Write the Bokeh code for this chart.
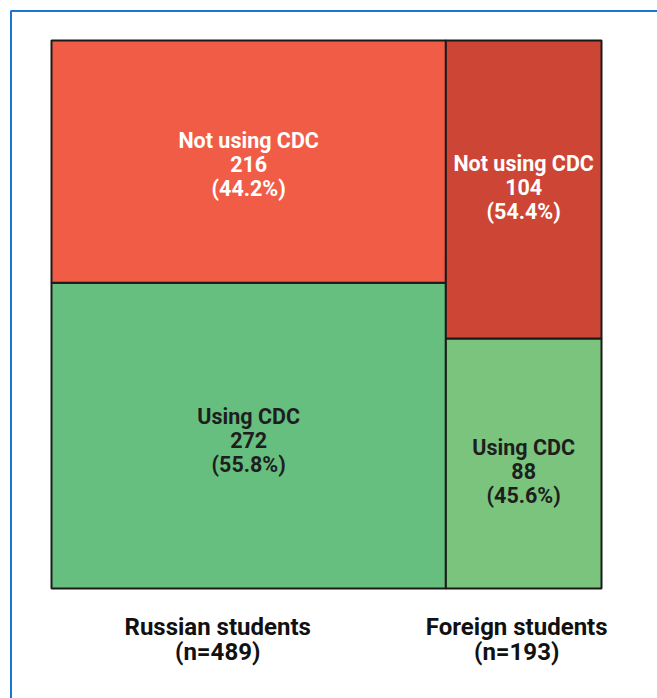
from bokeh.plotting import figure
from bokeh.models import ColumnDataSource, Range1d, BoxAnnotation
from bokeh.core.properties import value
from bokeh.embed import file_html
from bokeh.resources import INLINE

# Survey data: use of CDC among students
groups = ["Russian students", "Foreign students"]
group_n = [489, 193]
not_using = [216, 104]
using = [272, 88]
not_using_pct = [44.2, 54.4]
using_pct = [55.8, 45.6]

not_using_colors = ["#F15C46", "#CD4535"]
using_colors = ["#66BF7F", "#7AC47D"]

W, H = 657, 698
# mosaic frame in pixels (left, right, top, bottom)
PL, PR, PT, PB = 51, 601, 40, 588

total = sum(group_n)
xs = (PR - PL) / total
ys = (PB - PT) / 100.0

p = figure(width=W, height=H, output_backend="svg", toolbar_location=None,
           x_range=Range1d(-PL / xs, total + (W - PR) / xs),
           y_range=Range1d(-(H - PB) / ys, 100 + PT / ys),
           min_border=0, border_fill_color="white", background_fill_color="white")
p.axis.visible = False
p.grid.visible = False
p.outline_line_color = None

left, right, centers = [], [], []
acc = 0
for n in group_n:
    left.append(acc)
    right.append(acc + n)
    centers.append(acc + n / 2)
    acc += n

# bottom cells: using CDC; top cells: not using CDC
src = ColumnDataSource(dict(
    left=left + left,
    right=right + right,
    bottom=[0, 0] + using_pct,
    top=using_pct + [100, 100],
    color=using_colors + not_using_colors,
))
p.quad(left="left", right="right", bottom="bottom", top="top", source=src,
       fill_color="color", line_color="#1a1a1a", line_width=2)

# small vertical nudges of the cell captions (pixels, downward)
cell_dy = [5, 8, 3, -2]
labels = ColumnDataSource(dict(
    x=centers + centers,
    y=[u / 2 for u in using_pct] + [u + (100 - u) / 2 for u in using_pct],
    text=[f"Using CDC\n{c}\n({pc}%)" for c, pc in zip(using, using_pct)]
         + [f"Not using CDC\n{c}\n({pc}%)" for c, pc in zip(not_using, not_using_pct)],
    color=["#1e1e1e", "#1e1e1e", "white", "white"],
    dy=cell_dy,
))
p.text(x="x", y="y", text="text", source=labels, text_color="color", y_offset="dy",
       text_font=value("Roboto"), text_font_style="bold", text_font_size="21.5px",
       text_align="center", text_baseline="middle", text_line_height=0.95)

cat = ColumnDataSource(dict(
    x=centers,
    y=[0, 0],
    text=[f"{g}\n(n={n})" for g, n in zip(groups, group_n)],
    dx=[-31, -7],
))
p.text(x="x", y="y", text="text", source=cat, x_offset="dx", y_offset=51,
       text_color="#111111", text_font=value("Roboto"), text_font_style="bold",
       text_font_size="24px", text_align="center", text_baseline="middle",
       text_line_height=0.92)

# thin blue frame around the figure
p.add_layout(BoxAnnotation(left=10.5, right=W + 20, top=10.5, bottom=H + 20,
                           left_units="canvas", right_units="canvas",
                           top_units="canvas", bottom_units="canvas",
                           fill_alpha=0, line_color="#1976D2", line_alpha=1.0,
                           line_width=2))

open("out.html", "w").write(file_html(p, INLINE))
